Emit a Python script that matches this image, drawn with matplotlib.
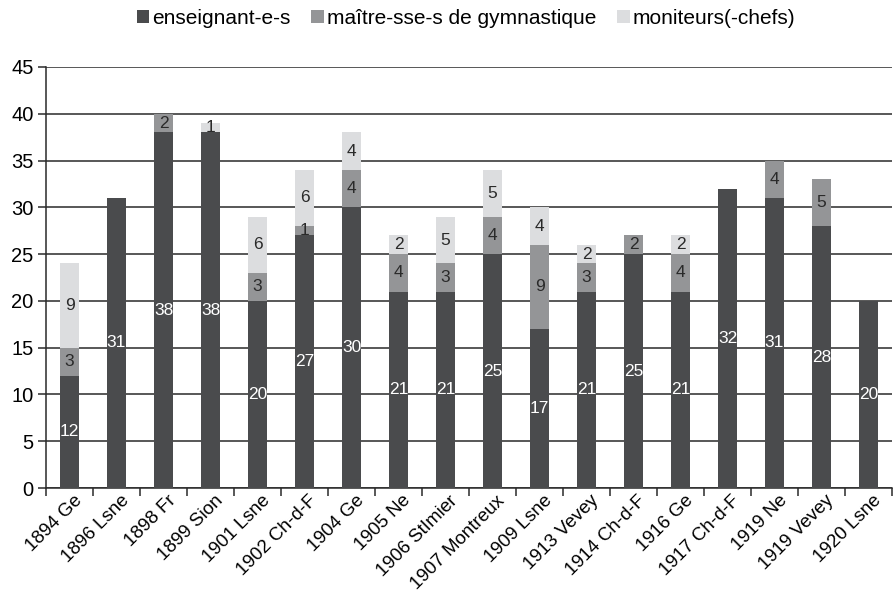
import numpy as np
import matplotlib.pyplot as plt

plt.rcParams['font.family'] = ['Liberation Sans', 'DejaVu Sans']

categories = ['1894 Ge', '1896 Lsne', '1898 Fr', '1899 Sion', '1901 Lsne',
              '1902 Ch-d-F', '1904 Ge', '1905 Ne', '1906 StImier',
              '1907 Montreux', '1909 Lsne', '1913 Vevey', '1914 Ch-d-F',
              '1916 Ge', '1917 Ch-d-F', '1919 Ne', '1919 Vevey', '1920 Lsne']
enseignants = [12, 31, 38, 38, 20, 27, 30, 21, 21, 25, 17, 21, 25, 21, 32, 31, 28, 20]
maitres = [3, 0, 2, 0, 3, 1, 4, 4, 3, 4, 9, 3, 2, 4, 0, 4, 5, 0]
moniteurs = [9, 0, 0, 1, 6, 6, 4, 2, 5, 5, 4, 2, 0, 2, 0, 0, 0, 0]

series = [
    ('enseignant-e-s', enseignants, '#4a4b4d', 'white'),
    ('maître-sse-s de gymnastique', maitres, '#949597', '#2a2a2a'),
    ('moniteurs(-chefs)', moniteurs, '#dcdddf', '#2a2a2a'),
]

fig = plt.figure(figsize=(8.93, 5.97), dpi=100)
ax = fig.add_axes([46 / 893, 1 - 488 / 597, (892 - 46) / 893, (488 - 67) / 597])

x = np.arange(len(categories))
bottom = np.zeros(len(categories))
for name, vals, color, tcolor in series:
    vals = np.array(vals, dtype=float)
    ax.bar(x, vals, width=0.41, bottom=bottom, color=color, label=name, zorder=3)
    for xi, b, v in zip(x, bottom, vals):
        if v > 0:
            ax.text(xi, b + v / 2, f'{int(v)}', ha='center', va='center',
                    color=tcolor, fontsize=12.5, zorder=4)
    bottom += vals

ax.set_xlim(-0.5, len(categories) - 0.5)
ax.set_ylim(0, 45)
ax.set_yticks(np.arange(0, 46, 5))
ax.yaxis.grid(True, color='#2a2a2a', linewidth=1.1, zorder=0)
ax.set_axisbelow(True)

ax.set_xticks(x + 0.08)
ax.set_xticklabels(categories, rotation=45, ha='right', rotation_mode='anchor', fontsize=13.5)
ax.set_xticks(np.arange(-0.5, len(categories), 1), minor=True)
ax.tick_params(axis='x', which='major', length=0, pad=3)
ax.tick_params(axis='x', which='minor', length=6, width=1.1, color='#2a2a2a')
ax.tick_params(axis='y', length=6, width=1.1, color='#2a2a2a', labelsize=14.5, pad=3)

for s in ['top', 'right']:
    ax.spines[s].set_visible(False)
for s in ['left', 'bottom']:
    ax.spines[s].set_color('#2a2a2a')
    ax.spines[s].set_linewidth(1.1)

fig.legend(loc='center', bbox_to_anchor=(466 / 893, 1 - 18 / 597), ncol=3,
           frameon=False, fontsize=15, handlelength=0.6, handleheight=0.6,
           handletextpad=0.15, columnspacing=1.0)

fig.savefig('out.png', dpi=100)
